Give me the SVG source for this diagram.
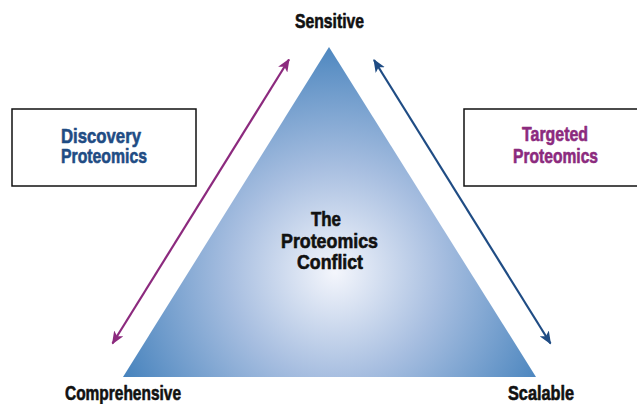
<svg xmlns="http://www.w3.org/2000/svg" width="637" height="404" viewBox="0 0 637 404">
<style>
text{font-family:"Liberation Sans",Arial,sans-serif;font-weight:bold;font-size:20px;stroke-width:0.6;stroke-linejoin:round}
.k{fill:#111;stroke:#111}
.blue{fill:#1F4C84;stroke:#1F4C84}
.pur{fill:#8C2A7E;stroke:#8C2A7E}
.box{fill:#fff;stroke:#111;stroke-width:1.5}
</style>
<defs>
<radialGradient id="g" gradientUnits="userSpaceOnUse" cx="335" cy="272" r="235">
<stop offset="0" stop-color="#F4F6FC"/>
<stop offset="0.45" stop-color="#A7BEE0"/>
<stop offset="1" stop-color="#4783BD"/>
</radialGradient>
<marker id="ap" viewBox="0 0 12 10" refX="11" refY="5" markerWidth="13" markerHeight="11" markerUnits="userSpaceOnUse" orient="auto-start-reverse">
<path d="M0,0 L12,5 L0,10 L3,5 Z" fill="#8C2A7E"/>
</marker>
<marker id="an" viewBox="0 0 12 10" refX="11" refY="5" markerWidth="13" markerHeight="11" markerUnits="userSpaceOnUse" orient="auto-start-reverse">
<path d="M0,0 L12,5 L0,10 L3,5 Z" fill="#1F4C84"/>
</marker>
</defs>
<rect width="637" height="404" fill="#fff"/>
<g id="triangle">
<polygon points="329,47 123,377 536,377" fill="url(#g)"/>
<text class="k" x="311" y="226" textLength="30" lengthAdjust="spacingAndGlyphs">The</text>
<text class="k" x="281" y="247.5" textLength="97" lengthAdjust="spacingAndGlyphs">Proteomics</text>
<text class="k" x="297" y="268.5" textLength="66" lengthAdjust="spacingAndGlyphs">Conflict</text>
</g>
<g id="sensitive"><text class="k" x="295" y="27.5" textLength="69" lengthAdjust="spacingAndGlyphs">Sensitive</text></g>
<g id="comprehensive"><text class="k" x="65" y="400" textLength="116" lengthAdjust="spacingAndGlyphs">Comprehensive</text></g>
<g id="scalable"><text class="k" x="508" y="400" textLength="66" lengthAdjust="spacingAndGlyphs">Scalable</text></g>
<g id="discovery">
<rect class="box" x="12" y="109" width="184" height="77"/>
<text class="blue" x="61" y="142.5" textLength="80" lengthAdjust="spacingAndGlyphs">Discovery</text>
<text class="blue" x="61" y="162.5" textLength="86" lengthAdjust="spacingAndGlyphs">Proteomics</text>
</g>
<g id="targeted">
<rect class="box" x="464" y="109" width="180" height="77"/>
<text class="pur" x="522" y="141" textLength="66" lengthAdjust="spacingAndGlyphs">Targeted</text>
<text class="pur" x="513" y="162.5" textLength="85" lengthAdjust="spacingAndGlyphs">Proteomics</text>
</g>
<g id="connectors">
<line x1="112.5" y1="343.5" x2="289" y2="59.5" stroke="#8C2A7E" stroke-width="2.2" marker-start="url(#ap)" marker-end="url(#ap)"/>
<line x1="374" y1="60" x2="550.5" y2="343.5" stroke="#1F4C84" stroke-width="2.2" marker-start="url(#an)" marker-end="url(#an)"/>
</g>
</svg>
